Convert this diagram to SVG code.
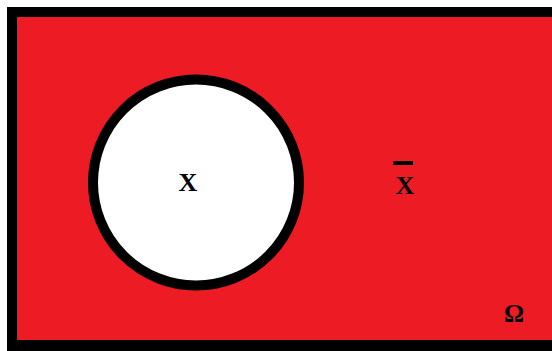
<svg xmlns="http://www.w3.org/2000/svg" width="552" height="351" viewBox="0 0 552 351">
<style>
.lbl{font-family:"Liberation Serif","Times New Roman",serif;font-weight:bold;fill:#000}
</style>
<rect width="552" height="351" fill="#fff"/>
<g id="universe">
<rect x="7" y="7" width="560" height="360" fill="#000"/>
<rect x="17" y="17" width="560" height="323" fill="#ed1c24"/>
<text class="lbl" x="514" y="322" font-size="25" text-anchor="middle">Ω</text>
</g>
<g id="complement">
<rect x="393" y="161" width="20" height="4" fill="#000"/>
<text class="lbl" x="405" y="194" font-size="26" text-anchor="middle">X</text>
</g>
<g id="setX">
<circle cx="196" cy="182.5" r="103" fill="#fff" stroke="#000" stroke-width="10"/>
<text class="lbl" x="188" y="191" font-size="26" text-anchor="middle">X</text>
</g>
</svg>
